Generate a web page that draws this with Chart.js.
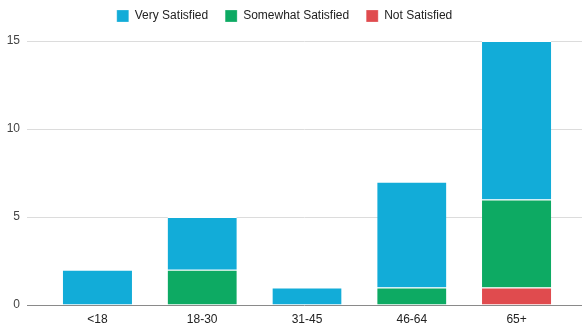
<!DOCTYPE html>
<html>
<head>
<meta charset="utf-8">
<script src="https://cdn.jsdelivr.net/npm/chart.js@4"></script>
<style>
  html, body { margin: 0; padding: 0; background: #fff; }
  #wrap { width: 582px; height: 331px; position: relative; }
</style>
</head>
<body>
<div id="wrap"><canvas id="chart"></canvas></div>
<script>
// age groups and answer counts per satisfaction level
const ageGroups = ['<18', '18-30', '31-45', '46-64', '65+'];
const notSatisfied = [0, 0, 0, 0, 1];
const somewhatSatisfied = [0, 2, 0, 1, 5];
const verySatisfied = [2, 3, 1, 6, 9];

const colors = {
  very: '#12acd8',
  somewhat: '#0daa63',
  not: '#e04b4e',
  grid: '#dcdcdc',
  base: '#8a8a8a',
  text: '#222222',
};

// horizontal guide lines run a bit wider than the plot area
const wideGrid = {
  id: 'wideGrid',
  beforeDatasetsDraw(chart) {
    const { ctx, chartArea, scales } = chart;
    const y = scales.y;
    ctx.save();
    y.ticks.forEach((t) => {
      const py = Math.round(y.getPixelForValue(t.value)) + 0.5;
      ctx.beginPath();
      ctx.strokeStyle = t.value === 0 ? colors.base : colors.grid;
      ctx.lineWidth = 1;
      ctx.moveTo(chartArea.left - 18, py);
      ctx.lineTo(chartArea.right + 13, py);
      ctx.stroke();
    });
    ctx.restore();
  },
};

// extra room under the legend
const legendGap = {
  id: 'legendGap',
  beforeInit(chart) {
    const fit = chart.legend.fit;
    chart.legend.fit = function () {
      fit.bind(this)();
      this.height += 9;
    };
  },
};

const seg = (label, data, color) => ({
  label,
  data,
  backgroundColor: color,
  borderColor: '#ffffff',
  borderWidth: { top: 1, left: 0, right: 0, bottom: 0 },
  borderSkipped: false,
  barPercentage: 0.66,
  categoryPercentage: 1,
});

new Chart(document.getElementById('chart'), {
  type: 'bar',
  data: {
    labels: ageGroups,
    datasets: [
      seg('Not Satisfied', notSatisfied, colors.not),
      seg('Somewhat Satisfied', somewhatSatisfied, colors.somewhat),
      seg('Very Satisfied', verySatisfied, colors.very),
    ],
  },
  options: {
    responsive: true,
    maintainAspectRatio: false,
    animation: false,
    layout: { padding: { left: 0, right: 13, top: -7, bottom: 0 } },
    plugins: {
      tooltip: { enabled: false },
      legend: {
        reverse: true,
        position: 'top',
        labels: {
          boxWidth: 12,
          boxHeight: 12,
          padding: 17,
          color: colors.text,
          font: { family: 'Liberation Sans', size: 12 },
        },
      },
    },
    scales: {
      x: {
        stacked: true,
        grid: { display: false },
        border: { display: false },
        afterFit(scale) { scale.height = 26; },
        ticks: {
          color: colors.text,
          padding: -1,
          font: { family: 'Liberation Sans', size: 12 },
        },
      },
      y: {
        stacked: true,
        min: 0,
        max: 15,
        // the guide lines come from wideGrid; tick length only sets label offset
        grid: { display: true, color: 'rgba(0,0,0,0)', drawTicks: true, tickLength: 25 },
        border: { display: false },
        afterFit(scale) { scale.width = 45; },
        ticks: {
          stepSize: 5,
          color: '#444444',
          padding: 0,
          font: { family: 'Liberation Sans', size: 12 },
        },
      },
    },
  },
  plugins: [wideGrid, legendGap],
});
</script>
</body>
</html>
